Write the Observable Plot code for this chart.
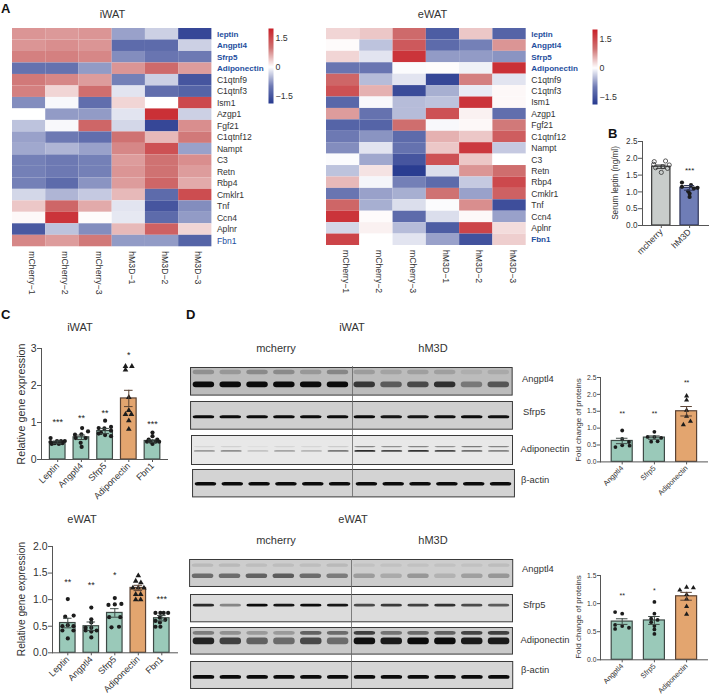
<!DOCTYPE html>
<html><head><meta charset="utf-8">
<script src="https://cdn.jsdelivr.net/npm/d3@7"></script>
<script src="https://cdn.jsdelivr.net/npm/@observablehq/plot@0.6"></script>
<style>
html,body{margin:0;background:#fff}
#page{position:relative;width:709px;height:695px;overflow:hidden;font-family:"Liberation Sans",Arial,sans-serif;color:#333}
#page svg{position:absolute;overflow:visible;background:transparent}
.t{position:absolute;white-space:nowrap;line-height:1;transform:translate(-50%,-50%)}
.l{position:absolute;white-space:nowrap;line-height:1;transform:translateY(-50%)}
.v{position:absolute;white-space:nowrap;line-height:1;transform:translate(-50%,-50%) rotate(-90deg)}
.p{font-weight:bold;font-size:13px;color:#111}
.blot g[aria-label="rect"]{filter:blur(.6px)}
</style></head><body><div id="page"></div>
<script>
// ---------- heatmap data ----------
const samples = ["mCherry−1","mCherry−2","mCherry−3","hM3D−1","hM3D−2","hM3D−3"];
const genes = ["leptin","Angptl4","Sfrp5","Adiponectin","C1qtnf9","C1qtnf3","Ism1","Azgp1","Fgf21","C1qtnf12","Nampt","C3","Retn","Rbp4","Cmklr1","Tnf","Ccn4","Aplnr","Fbn1"];
const highlighted = ["leptin","Angptl4","Sfrp5","Adiponectin","Fbn1"];
const iwatBold = ["leptin","Angptl4","Sfrp5","Adiponectin"];
const iwatHeat = [
[.75,.72,.75,-.7,-.35,-1.7],[.75,.8,.75,-1.2,-1.2,-.35],[.9,.9,.85,-.85,-1.05,-1.0],[-1.1,-1.1,-.75,.75,1.1,.7],
[.95,.85,.7,-.95,-.35,-1.5],[.9,.3,1.05,-.2,-1.15,-1.3],[-.85,-.05,-1.15,.3,0,1.5],[0,-.75,-.75,-.2,1.8,-.35],
[-.45,-.05,1.15,-.3,-1.7,.8],[-.7,-1.0,-1.15,1.0,.5,.95],[-.65,-.55,-.7,.85,1.4,-.7],[-.95,-1.0,-.95,.7,1.0,.8],
[-.95,-1.0,-.95,.75,1.0,.7],[-.95,-1.2,-.8,.7,1.15,.6],[-.3,-.55,-.4,.5,-1.2,1.45],[.4,1.15,.6,-.2,-1.5,-.85],
[.05,1.75,.03,-.17,-1.2,-.75],[-1.45,-.45,-.85,.5,1.2,.3],[.85,.7,.95,-.75,-.75,-1.3]];
const ewatHeat = [
[.3,.4,1.1,-1.4,.4,-1.3],[.03,-.45,1.3,-1.2,-.95,.75],[.3,-.2,1.75,-.75,-.75,-.8],[-1.05,-1.05,-.03,.02,-.1,1.8],
[1.15,-.5,-.2,-1.7,.9,-.2],[1.4,.55,-1.65,-.6,-.15,.05],[-1.25,-.05,-.5,-.45,1.75,.05],[.7,-1.1,-.5,1.4,.1,-1.15],
[-1.3,-1.3,1.05,-.05,.05,.95],[-1.0,-.8,-1.2,.55,.4,1.25],[-.85,-.2,-1.1,.4,1.7,-.4],[-.03,-.65,-1.5,1.4,.4,0],
[-.45,.2,-1.85,-.25,.75,1.05],[.5,-.07,-.95,-1.2,-.4,1.5],[-1.05,-.7,-.6,1.0,-.7,1.2],[1.15,-.6,-.25,-.03,.8,-1.6],
[1.75,.03,-1.2,-.25,.05,-.7],[-.3,.1,-.5,-1.4,1.55,.25],[1.55,0,-.2,-.7,-1.55,.35]];

// ---------- bar chart data: [value, sideways spread in bar steps] ----------
const catsC = ["Leptin","Angptl4","Sfrp5","Adiponectin","Fbn1"];
const catsD = ["Angptl4","Sfrp5","Adiponectin"];
const catsB = ["mcherry","hM3D"];
const cIwatMeans = [.47,.6,.77,1.65,.5], cIwatErr = [.03,.06,.07,.22,.03], cIwatStars = ["***","**","**","*","***"], cIwatStarY = [1.06,1.16,1.32,2.88,1.01];
const cIwatPts = [
[[.58,-.3],[.47,-.3],[.42,-.25],[.44,-.12],[.5,-.03],[.42,.05],[.5,.14],[.44,.2],[.5,.3]],
[[.85,.03],[.76,.28],[.67,-.27],[.68,0],[.58,.18],[.58,-.24],[.45,-.03],[.34,.01]],
[[1.05,0],[.85,-.27],[.88,.25],[.84,-.03],[.78,.25],[.7,-.27],[.72,-.17],[.66,0],[.63,.25]],
[[2.52,-.14],[2.52,.13],[2.42,-.14],[1.68,0],[1.33,0],[1.22,-.14],[1.22,.11],[1.05,0],[.82,0]],
[[.73,0],[.63,0],[.48,-.23],[.48,-.08],[.48,.13],[.48,.28],[.54,-.16],[.54,.2],[.42,0]]];
const cEwatMeans = [.56,.5,.75,1.22,.65], cEwatErr = [.09,.08,.08,.05,.05], cEwatStars = ["**","**","*","","***"], cEwatStarY = [1.37,1.32,1.49,1.5,1.04];
const cEwatPts = [
[[1.01,0],[.7,.25],[.68,-.11],[.5,-.23],[.52,0],[.5,.24],[.42,-.23],[.42,.24],[.27,0]],
[[.85,0],[.63,0],[.57,0],[.47,-.24],[.47,0],[.42,.23],[.42,-.24],[.4,0],[.29,0]],
[[1.03,0],[.9,-.27],[.92,.28],[.91,0],[.67,-.24],[.67,.23],[.48,-.14],[.49,.18]],
[[1.45,0],[1.35,-.11],[1.32,.11],[1.22,-.23],[1.22,0],[1.22,.24],[1.1,-.11],[1.1,.1],[1.0,-.11],[1.0,.1]],
[[.75,-.27],[.75,-.06],[.75,.08],[.75,.27],[.66,-.08],[.6,-.27],[.62,.15],[.57,-.08],[.49,-.27],[.49,-.06]]];
const dIwatMeans = [.62,.72,1.5], dIwatErr = [.08,.05,.14], dIwatStars = ["**","**","**"], dIwatStarY = [1.46,1.46,2.4];
const dIwatPts = [
[[.93,0],[.68,0],[.44,-.21],[.49,0],[.59,.21],[.48,.23]],
[[.89,0],[.74,-.21],[.74,0],[.71,.21],[.6,-.1],[.61,.1]],
[[1.95,0],[1.83,0],[1.53,0],[1.35,0],[1.1,-.1],[1.2,.12]]];
const dEwatMeans = [.68,.7,1.13], dEwatErr = [.05,.07,.07], dEwatStars = ["**","*",""], dEwatStarY = [1.17,1.26,1.3];
const dEwatPts = [
[[.85,-.22],[.82,0],[.62,-.22],[.6,0],[.57,.21],[.55,-.22]],
[[1.03,0],[.82,0],[.73,-.1],[.71,.1],[.67,-.1],[.6,0],[.54,0],[.46,0]],
[[1.24,-.21],[1.29,0],[1.28,.21],[1.16,0],[1.08,0],[.95,0],[.81,0]]];
const bMeans = [1.75,1.12], bErr = [.05,.07], bStars = ["","***"], bStarY = [2,1.68];
const bPts = [
[[1.9,-.25],[1.92,.15],[1.82,-.27],[1.8,.28],[1.72,-.2],[1.75,.05],[1.7,.22],[1.58,0]],
[[1.28,-.27],[1.2,.05],[1.15,-.27],[1.12,.28],[1.1,.15],[.95,0],[.85,0],[1.02,-.05]]];

// ---------- western blot data: band centre, thickness (fraction of the strip), darkness per lane ----------
const iwatAngptl4 = {bg:"#bcbcbc",bands:[{c:.18,h:.16,d:[.25,.2,.28,.28,.2,.3,.18,.14,.16,.16,.08,.1]},{c:.63,h:.2,d:[1,1,1,1,1,1,.75,.55,.65,.8,.38,.58]}]};
const iwatSfrp5 = {bg:"#cfcfcf",bands:[{c:.57,h:.11,d:[1,1,1,1,1,1,1,.95,.95,.98,1,.98]}]};
const iwatAdipo = {bg:"#e8e8e8",bands:[{c:.4,h:.05,d:[.08,.1,.04,.08,.08,.12,.45,.4,.45,.4,.5,.45]},{c:.55,h:.06,d:[.35,.4,.16,.3,.22,.5,.85,.72,.82,.72,.55,.45]}]};
const iwatActin = {bg:"#d3d3d3",bands:[{c:.54,h:.13,d:[1,1,1,1,1,1,1,1,1,1,1,1]}]};
const ewatAngptl4 = {bg:"#cdcdcd",bands:[{c:.23,h:.12,d:[.1,.1,.08,.08,.08,.1,.06,.06,.06,.06,.06,.08]},{c:.62,h:.17,d:[.5,.5,.55,.58,.5,.42,.25,.18,.28,.14,.24,.28]}]};
const ewatSfrp5 = {bg:"#dcdcdc",bands:[{c:.41,h:.1,d:[.85,.42,1,.95,1,.95,.7,.78,.75,.82,.7,.62]}]};
const ewatAdipo = {bg:"#cacaca",bands:[{c:.22,h:.14,d:[.4,.3,.25,.25,.55,.5,.72,.45,.5,.55,.7,.72]},{c:.52,h:.25,d:[.88,.72,.55,.5,.68,.5,.98,.92,1,1,.92,.92]}]};
const ewatActin = {bg:"#d6d6d6",bands:[{c:.59,h:.14,d:[1,1,1,1,1,1,1,1,1,1,1,1]}]};

// ---------- helpers ----------
const page = document.getElementById("page");
const FONT = '"Liberation Sans",Arial,sans-serif';
function place(svg,left,top){svg.style.left=left+"px";svg.style.top=top+"px";page.appendChild(svg);return svg;}
function label(text,x,y,size,opt={}){
  const d=document.createElement("div");d.className=opt.v?"v":opt.left?"l":"t";d.textContent=text;
  d.style.left=x+"px";d.style.top=y+"px";d.style.fontSize=size+"px";
  if(opt.cls)d.classList.add(opt.cls);page.appendChild(d);
}
const heatColor = {type:"linear",domain:[-1.9,-1,0,1,2],range:["#26398f","#6d79b3","#ffffff","#cf7272","#c91f27"]};

function heatmap(matrix,boldGenes,x0,x1,y0,y1){
  const cells=genes.flatMap((g,r)=>samples.map((s,c)=>({g,s,v:matrix[r][c]})));
  const mr=110,mb=55;
  const plain=genes.filter(g=>!highlighted.includes(g));
  const blueReg=highlighted.filter(g=>!boldGenes.includes(g));
  const geneText=(list,fill,fontWeight,fontSize)=>Plot.text(list,{y:d=>d,frameAnchor:"right",textAnchor:"start",dx:5,fontSize,fontWeight,fill});
  const svg=Plot.plot({width:x1-x0+mr,height:y1-y0+mb,marginLeft:0,marginTop:0,marginRight:mr,marginBottom:mb,
    style:{fontFamily:FONT,background:"transparent"},
    x:{domain:samples,axis:null,padding:0,round:false},y:{domain:genes,axis:null,padding:0,round:false},color:heatColor,
    marks:[
      Plot.cell(cells,{x:"s",y:"g",fill:"v",inset:0}),
      geneText(plain,"#333","normal",8.6),
      geneText(boldGenes,"#1f4f9e","bold",8.1),
      geneText(blueReg,"#1f4f9e","normal",8.6),
      Plot.text(samples,{x:d=>d,frameAnchor:"bottom",rotate:90,textAnchor:"start",dy:4.5,fontSize:8.7,fill:"#333"})
    ]});
  place(svg,x0,y0);
}
function colorbar(x0,x1,y0,y1){
  const mr=30;
  const svg=Plot.plot({width:x1-x0+mr,height:y1-y0,marginLeft:0,marginRight:mr,marginTop:0,marginBottom:0,
    style:{fontFamily:FONT,background:"transparent"},
    x:{domain:[0,1],axis:null},y:{domain:[-1.9,2]},color:heatColor,
    marks:[
      Plot.raster({fill:(x,y)=>y,x1:0,x2:1,y1:-1.9,y2:2,pixelSize:1,imageRendering:"auto"}),
      Plot.axisY({anchor:"right",ticks:[-1.5,0,1.5],tickSize:0,tickPadding:2,label:null,fontSize:8.8,tickFormat:d=>d===0?"0":(d<0?"−":"")+Math.abs(d).toFixed(1),fill:"#333"})
    ]});
  place(svg,x0,y0);
}
function bars(o){
  const ml=42,mt=8,mb=50;
  const w=o.right-o.axisX, h=o.y0-o.yTop;
  const rows=o.cats.map((c,i)=>({i,c,m:o.means[i],e:o.err[i],s:o.stars[i],sy:o.starY[i],fill:o.fills[i],edge:o.edges[i],
     hi:o.tri&&o.tri.includes(c)}));
  const pts=rows.flatMap(r=>o.pts[r.i].map(([v,off])=>({x:r.i+off,v,tri:r.hi})));
  const hw=o.hw;
  const svg=Plot.plot({width:w+ml,height:h+mt+mb,marginLeft:ml,marginRight:0,marginTop:mt,marginBottom:mb,
    style:{fontFamily:FONT,background:"transparent",overflow:"visible"},
    x:{domain:[(o.axisX-o.c0)/o.step,(o.right-o.c0)/o.step],axis:null},
    y:{domain:[0,o.max],axis:null},
    marks:[
      Plot.rect(rows,{x1:d=>d.i-hw,x2:d=>d.i+hw,y1:0,y2:"m",fill:"fill",stroke:"edge",strokeWidth:o.bw||1.2}),
      Plot.dot(pts.filter(d=>!d.tri&&!o.open),{x:"x",y:"v",r:o.r,fill:"#1c1c1c"}),
      Plot.dot(pts.filter(d=>d.tri),{x:"x",y:"v",r:o.r,symbol:"triangle",fill:"#1c1c1c"}),
      o.open?Plot.dot(pts.filter(d=>d.x<.5),{x:"x",y:"v",r:o.r,stroke:"#333",fill:"none",strokeWidth:.8}):null,
      o.open?Plot.dot(pts.filter(d=>d.x>=.5),{x:"x",y:"v",r:o.r,fill:"#1c1c1c"}):null,
      Plot.ruleX(rows,{x:"i",y1:d=>d.m-d.e,y2:d=>d.m+d.e,stroke:"edge",strokeWidth:1}),
      Plot.ruleY(rows,{y:d=>d.m+d.e,x1:d=>d.i-hw*.55,x2:d=>d.i+hw*.55,stroke:"edge",strokeWidth:1}),
      Plot.ruleY(rows,{y:d=>d.m-d.e,x1:d=>d.i-hw*.55,x2:d=>d.i+hw*.55,stroke:"edge",strokeWidth:1}),
      Plot.text(rows,{x:"i",y:"sy",text:"s",fontSize:o.starSize,dy:o.starSize*.22,fill:"#222"}),
      Plot.ruleY([0],{stroke:"#555",strokeWidth:1}),
      Plot.frame({anchor:"left",stroke:"#555",strokeWidth:1}),
      Plot.axisY({ticks:o.ticks,tickSize:o.tick,tickPadding:1,fontSize:o.yFont,label:null,stroke:"#555",fill:"#333",tickFormat:o.fmt}),
      Plot.axisX({ticks:o.cats.map((c,i)=>i),tickSize:3,tickPadding:2,tickRotate:-45,textAnchor:"end",fontSize:o.xFont,label:null,stroke:"#555",fill:"#333",tickFormat:i=>o.cats[i]})
    ]});
  place(svg,o.axisX-ml,o.yTop-mt);
  label(o.title,o.axisX-o.titleDx,(o.yTop+o.y0)/2+(o.titleShift||0),o.titleSize,{v:true});
}
function blot(spec,x0,x1,y0,y1){
  const rows=spec.bands.flatMap(b=>b.d.map((d,i)=>({i,c:b.c,h:b.h,d})));
  const svg=Plot.plot({width:x1-x0+2,height:y1-y0+2,margin:1,className:"blot",
    style:{background:"transparent"},
    x:{domain:[0,12],axis:null},y:{domain:[1,0],axis:null},
    opacity:{type:"identity"},
    marks:[
      Plot.frame({fill:spec.bg,stroke:"none"}),
      Plot.rect(rows,{x1:d=>d.i+.1,x2:d=>d.i+.9,y1:d=>d.c-d.h/2,y2:d=>d.c+d.h/2,fill:"#0b0b0b",fillOpacity:"d",rx:3}),
      Plot.frame({stroke:"#3a3a3a",strokeWidth:1})
    ]});
  place(svg,x0-1,y0-1);
}
function laneDivider(x0,x1,y0,y1){
  const svg=Plot.plot({width:x1-x0,height:y1-y0,margin:0,style:{background:"transparent"},
    x:{domain:[0,12],axis:null},y:{domain:[0,1],axis:null},
    marks:[Plot.ruleX([6],{stroke:"#666",strokeWidth:.8})]});
  place(svg,x0,y0);
}

// ---------- panel A ----------
heatmap(iwatHeat,iwatBold,12.3,211.7,27.7,246);
heatmap(ewatHeat,highlighted,326,525.7,28,245);
colorbar(267.5,272.5,28,103);
colorbar(592,597,29,104);
// ---------- panel B ----------
const grey="#c9cdcb",slate="#6f7db6",teal="#9ac9b9",orange="#e3a56f",dk="#3e4a46",dko="#5b4334";
bars({cats:catsB,means:bMeans,err:bErr,stars:bStars,starY:bStarY,pts:bPts,open:true,fills:[grey,slate],edges:["#3a3a3a","#2f3558"],
  axisX:642,right:709,c0:660.8,step:28.3,hw:.323,y0:224.7,yTop:140.7,max:2.5,ticks:[0,.5,1,1.5,2,2.5],fmt:d3.format(".1f"),
  r:2.1,tick:4,yFont:8.2,xFont:8.8,starSize:8,title:"Serum leptin (ng/ml)",titleDx:26,titleSize:8.2,bw:1.2});
// ---------- panel C ----------
const cFills=[teal,teal,teal,orange,teal],cEdges=[dk,dk,dk,dko,dk];
bars({cats:catsC,means:cIwatMeans,err:cIwatErr,stars:cIwatStars,starY:cIwatStarY,pts:cIwatPts,tri:["Adiponectin"],fills:cFills,edges:cEdges,
  axisX:41,right:168,c0:57.2,step:23.7,hw:.33,y0:459.3,yTop:348.3,max:3,ticks:[0,1,2,3],fmt:d3.format("d"),
  r:2.1,tick:4,yFont:10.5,xFont:9,starSize:9,title:"Relative gene expression",titleDx:20,titleSize:10.8});
bars({cats:catsC,means:cEwatMeans,err:cEwatErr,stars:cEwatStars,starY:cEwatStarY,pts:cEwatPts,tri:["Adiponectin"],fills:cFills,edges:cEdges,
  axisX:51.7,right:177.7,c0:67,step:23.5,hw:.33,y0:652,yTop:545.7,max:2,ticks:[0,.5,1,1.5,2],fmt:d3.format(".1f"),
  r:2.1,tick:4,yFont:10.5,xFont:9,starSize:9,title:"Relative gene expression",titleDx:30,titleSize:10.2});
// ---------- panel D charts ----------
const dFills=[teal,teal,orange],dEdges=[dk,dk,dko];
bars({cats:catsD,means:dIwatMeans,err:dIwatErr,stars:dIwatStars,starY:dIwatStarY,pts:dIwatPts,tri:["Adiponectin"],fills:dFills,edges:dEdges,
  axisX:600,right:708,c0:621.7,step:32.2,hw:.326,y0:461.7,yTop:377.3,max:2.5,ticks:[0,.5,1,1.5,2,2.5],fmt:d3.format(".1f"),
  r:1.9,tick:3,yFont:6.8,xFont:7.4,starSize:7,title:"Fold change of proteins",titleDx:21,titleSize:8});
bars({cats:catsD,means:dEwatMeans,err:dEwatErr,stars:dEwatStars,starY:dEwatStarY,pts:dEwatPts,tri:["Adiponectin"],fills:dFills,edges:dEdges,
  axisX:600,right:708,c0:621.7,step:32.2,hw:.326,y0:659.3,yTop:575,max:1.5,ticks:[0,.5,1,1.5],fmt:d3.format(".1f"),
  r:1.9,tick:3,yFont:6.8,xFont:7.4,starSize:7,title:"Fold change of proteins",titleDx:21,titleSize:8});
// ---------- panel D blots ----------
blot(iwatAngptl4,190,511.7,366.7,394.3);
blot(iwatSfrp5,190,512,401,428.7);
blot(iwatAdipo,191,512,435,464);
blot(iwatActin,192,514,469.3,496.7);
laneDivider(191,513,366,497);
blot(ewatAngptl4,189,512.3,559.3,586.3);
blot(ewatSfrp5,190.3,512.3,594,621.3);
blot(ewatAdipo,190.3,512.3,626.7,653.3);
blot(ewatActin,190,512.3,660.7,687.7);
laneDivider(189.5,511.5,559,688);

// ---------- text ----------
[["A",1,8],["B",608,133],["C",1,314],["D",186,314]].forEach(([t,x,y])=>label(t,x,y,13,{left:true,cls:"p"}));
[["iWAT",112.5,14],["eWAT",432.5,14],["iWAT",80,327],["eWAT",82,519],["iWAT",352,327],["eWAT",353,519],
 ["mcherry",276,348],["hM3D",433,348],["mcherry",276,540],["hM3D",433,540]].forEach(([t,x,y])=>label(t,x,y,11));
[["Angptl4",522,379],["Sfrp5",523,412],["Adiponectin",520.5,449],["β-actin",521,480],
 ["Angptl4",522,569],["Sfrp5",523,605],["Adiponectin",520.5,640],["β-actin",521,670]].forEach(([t,x,y])=>label(t,x,y,9.4,{left:true}));
</script></body></html>
